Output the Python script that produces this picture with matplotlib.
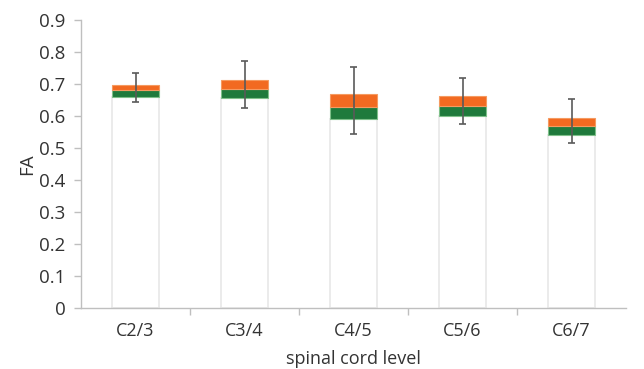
import matplotlib.pyplot as plt
import numpy as np

levels = ['C2/3', 'C3/4', 'C4/5', 'C5/6', 'C6/7']
q1 = [0.660, 0.655, 0.590, 0.600, 0.540]
median = [0.680, 0.683, 0.628, 0.632, 0.570]
q3 = [0.698, 0.713, 0.668, 0.662, 0.595]
wmin = [0.645, 0.625, 0.545, 0.575, 0.515]
wmax = [0.735, 0.772, 0.753, 0.720, 0.652]

plt.rcParams['font.family'] = ['Open Sans', 'DejaVu Sans']
text_color = '#333333'

fig = plt.figure(figsize=(6.44, 3.69), dpi=100)
ax = fig.add_axes([81 / 644, 61 / 369, 545 / 644, 288 / 369])

x = np.arange(len(levels))
w = 0.43
q1 = np.array(q1)
median = np.array(median)
q3 = np.array(q3)

# lower part of the stacked bar (white with faint edge)
ax.bar(x, q1, width=w, color='white', edgecolor='#ebebeb', linewidth=1.4, zorder=2)
ax.bar(x, median - q1, bottom=q1, width=w, color='#1f7a3c', edgecolor='#7fc08a',
       linewidth=0.8, zorder=3)
ax.bar(x, q3 - median, bottom=median, width=w, color='#f26a21', edgecolor='#f59a60',
       linewidth=0.8, zorder=3)

# whiskers
ax.vlines(x, wmin, wmax, color='#5a5a5a', linewidth=1.2, zorder=4)
ax.hlines(wmin, x - 0.035, x + 0.035, color='#5a5a5a', linewidth=1.2, zorder=4)
ax.hlines(wmax, x - 0.035, x + 0.035, color='#5a5a5a', linewidth=1.2, zorder=4)

ax.set_xlim(-0.5, len(levels) - 0.5)
ax.set_ylim(0, 0.9)
ax.set_yticks(np.arange(0, 0.91, 0.1))
ax.set_yticklabels(['0'] + ['%.1f' % v for v in np.arange(0.1, 0.91, 0.1)])
ax.set_xticks(x)
ax.set_xticklabels(levels)
ax.set_xticks(np.arange(0.5, len(levels) - 0.5, 1), minor=True)

for s in ['top', 'right']:
    ax.spines[s].set_visible(False)
for s in ['left', 'bottom']:
    ax.spines[s].set_color('#bfbfbf')
    ax.spines[s].set_linewidth(1.0)

ax.tick_params(axis='y', colors='#bfbfbf', labelcolor=text_color, labelsize=13.5,
               length=5, width=1, pad=6)
ax.tick_params(axis='x', which='major', length=0, labelcolor=text_color,
               labelsize=13, pad=10)
ax.tick_params(axis='x', which='minor', colors='#bfbfbf', length=5, width=1)

ax.set_ylabel('FA', color=text_color, fontsize=13.5, labelpad=2)
ax.set_xlabel('spinal cord level', color=text_color, fontsize=13, labelpad=7)

fig.savefig('out.png', dpi=100)
